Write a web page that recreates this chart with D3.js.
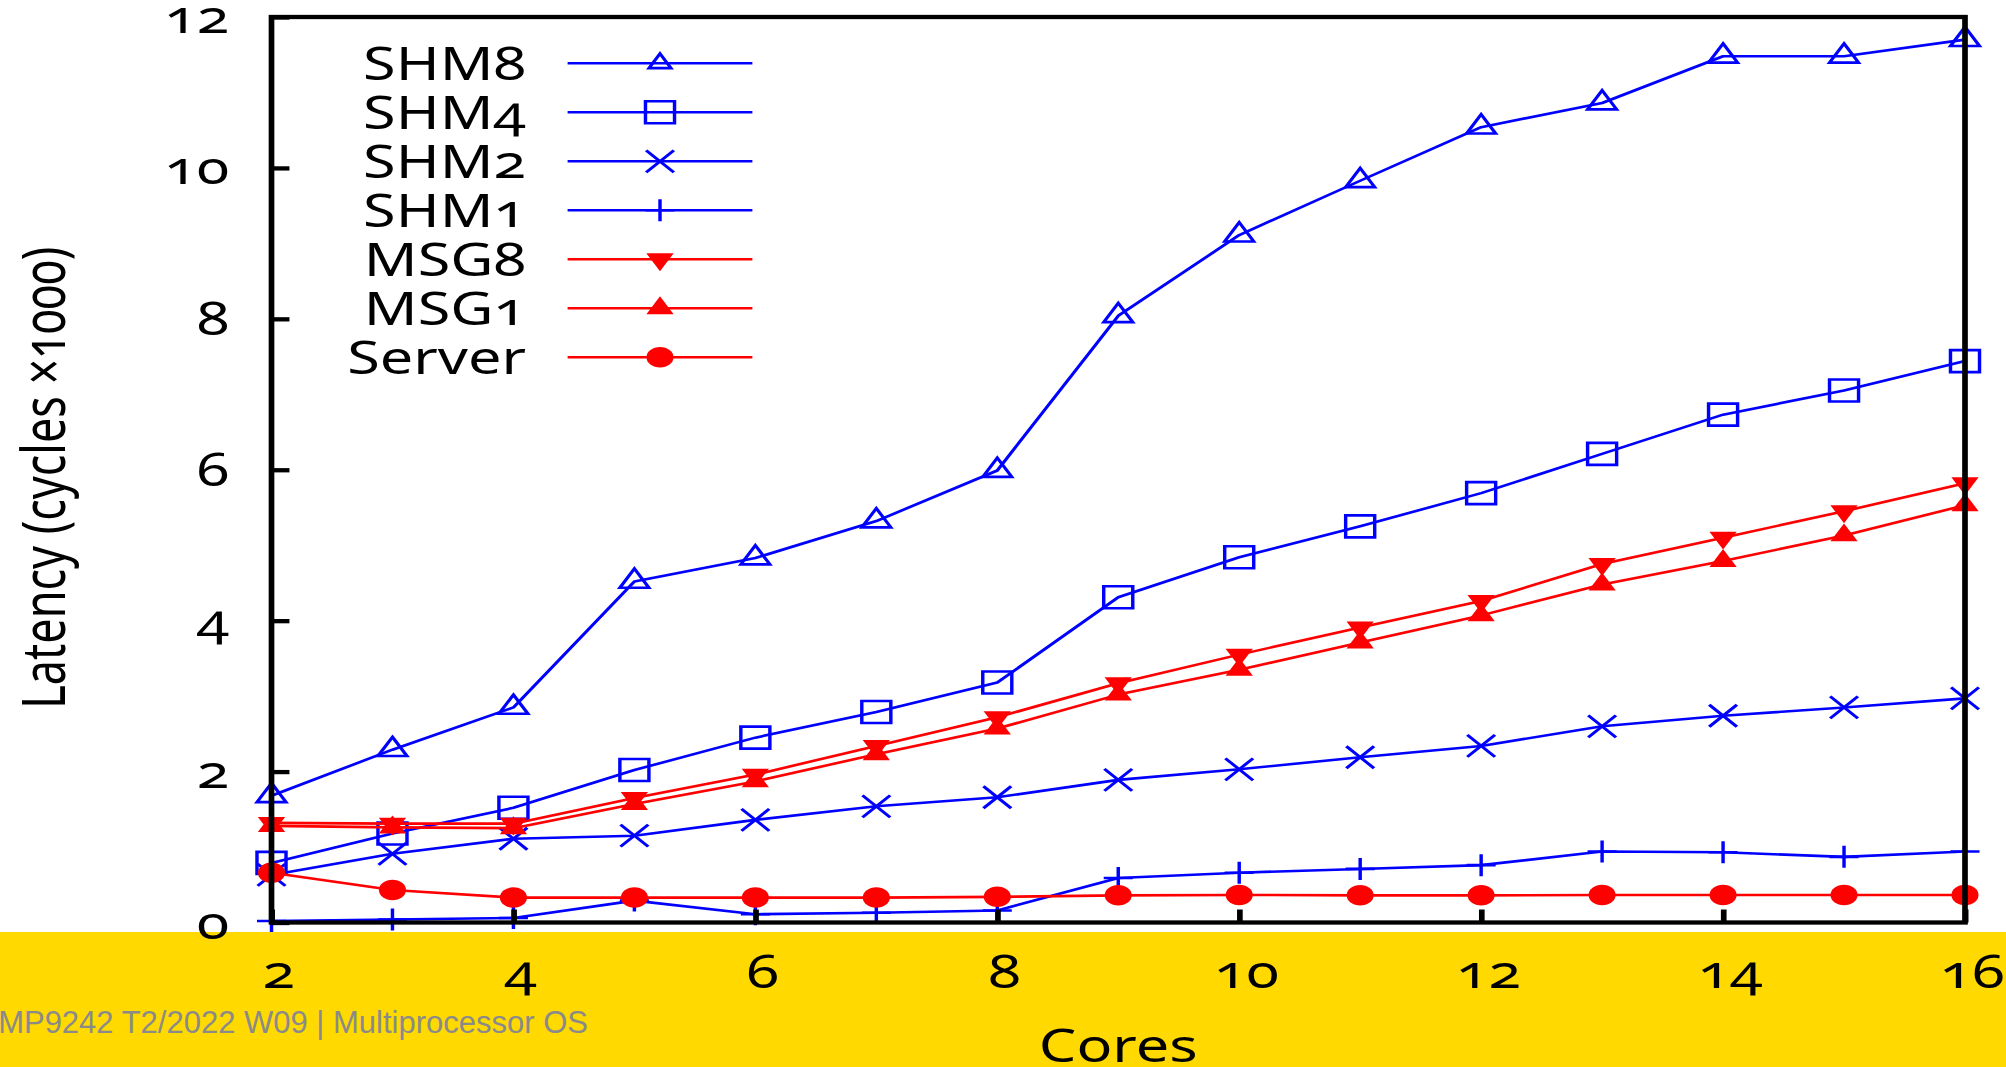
<!DOCTYPE html>
<html>
<head>
<meta charset="utf-8">
<script src="https://cdn.jsdelivr.net/npm/d3@7"></script>
<style>
  html, body { margin: 0; padding: 0; background: #fff; }
  svg { display: block; }
  .chart text { font-family: "Noto Sans", sans-serif; font-variant-numeric: oldstyle-nums; font-feature-settings: "onum" 1; }
</style>
</head>
<body>
<svg id="chart" width="2006" height="1067"></svg>
<script>
// ---------- data ----------
const cores = [2, 3, 4, 5, 6, 7, 8, 9, 10, 11, 12, 13, 14, 15, 16];
const shm8   = [1.68, 2.29, 2.85, 4.52, 4.83, 5.32, 5.99, 8.04, 9.11, 9.83, 10.54, 10.86, 11.48, 11.48, 11.70];
const shm4   = [0.79, 1.18, 1.52, 2.02, 2.45, 2.79, 3.18, 4.31, 4.84, 5.25, 5.69, 6.21, 6.73, 7.05, 7.44];
const shm2   = [0.63, 0.91, 1.11, 1.15, 1.36, 1.54, 1.66, 1.89, 2.03, 2.19, 2.34, 2.60, 2.74, 2.85, 2.97];
const shm1   = [0.02, 0.04, 0.06, 0.29, 0.11, 0.13, 0.16, 0.59, 0.66, 0.71, 0.76, 0.94, 0.93, 0.87, 0.94];
const msg8   = [1.32, 1.31, 1.31, 1.65, 1.96, 2.34, 2.72, 3.17, 3.55, 3.91, 4.26, 4.75, 5.10, 5.45, 5.82];
const msg1   = [1.28, 1.26, 1.25, 1.57, 1.87, 2.23, 2.57, 3.02, 3.35, 3.71, 4.07, 4.48, 4.79, 5.13, 5.53];
const server = [0.66, 0.43, 0.33, 0.33, 0.33, 0.33, 0.34, 0.36, 0.365, 0.36, 0.36, 0.365, 0.365, 0.365, 0.365];

const seriesNames = ["SHM8", "SHM4", "SHM2", "SHM1", "MSG8", "MSG1", "Server"];
const seriesValues = [shm8, shm4, shm2, shm1, msg8, msg1, server];
const seriesColors = ["#0000ff", "#0000ff", "#0000ff", "#0000ff", "#ff0000", "#ff0000", "#ff0000"];
const seriesMarkers = ["triangle", "square", "cross", "plus", "triDown", "triUp", "circle"];

const xTicks = [2, 4, 6, 8, 10, 12, 14, 16];
const yTicks = [0, 2, 4, 6, 8, 10, 12];
const xLabel = "Cores";
const yLabel = "Latency (cycles \u00d71000)";
const footer = "COMP9242 T2/2022 W09 | Multiprocessor OS";

// ---------- layout ----------
const W = 2006, H = 1067;
const SX = 1.32; // the figure is stretched horizontally
const svg = d3.select("#chart");

// slide footer band
svg.append("rect").attr("x", 0).attr("y", 932).attr("width", W).attr("height", H - 932).attr("fill", "#FFD900");
svg.append("text").attr("x", 588).attr("y", 1033).attr("text-anchor", "end")
  .attr("font-family", "'Liberation Sans', Arial, sans-serif").attr("font-size", 31)
  .attr("fill", "#8a8a8a").text(footer);

const g = svg.append("g").attr("class", "chart").attr("transform", `scale(${SX},1)`);

const x = d3.scaleLinear().domain([2, 16]).range([271.5 / SX, 1965 / SX]);
const y = d3.scaleLinear().domain([0, 12]).range([922.5, 17]);

const FS = 45;
const STROKE = 4.3;

// ---------- data lines & markers ----------
const line = d3.line().x((d, i) => x(cores[i])).y(d => y(d));

function markerPath(type, legend) {
  switch (type) {
    case "triangle": return d3.symbol(d3.symbolTriangle, legend ? 120 : 210)();
    case "triUp": return d3.symbol(d3.symbolTriangle, 185)();
    case "triDown": return d3.symbol(d3.symbolTriangle, 185)();
    case "square": return d3.symbol(d3.symbolSquare, 484)();
    case "circle": return d3.symbol(d3.symbolCircle, 330)();
    case "cross": return "M-10.5,-11L10.5,11M-10.5,11L10.5,-11";
    case "plus": return "M-11,0H11M0,-11V11";
  }
}
function drawMarker(sel, type, color, cx, cy, legend) {
  const filled = (type === "triUp" || type === "triDown" || type === "circle");
  sel.append("path")
    .attr("d", markerPath(type, legend))
    .attr("transform", `translate(${cx},${cy})` + (type === "triDown" ? " rotate(180)" : ""))
    .attr("fill", filled ? color : "none")
    .attr("stroke", filled ? "none" : color)
    .attr("stroke-width", 2.6);
}

seriesValues.forEach((vals, si) => {
  const col = seriesColors[si];
  const sg = g.append("g");
  sg.append("path").datum(vals).attr("d", line).attr("fill", "none")
    .attr("stroke", col).attr("stroke-width", 2.6).attr("stroke-linejoin", "round");
  vals.forEach((v, i) => drawMarker(sg, seriesMarkers[si], col, x(cores[i]), y(v), false));
});

// ---------- legend ----------
const legRow0 = 63.3, legStep = 49;
seriesNames.forEach((name, si) => {
  const ly = legRow0 + si * legStep;
  g.append("text").attr("x", 398.5).attr("y", ly + 17).attr("text-anchor", "end")
    .attr("font-size", FS).attr("fill", "#000").text(name);
  g.append("line").attr("x1", 430).attr("x2", 570).attr("y1", ly).attr("y2", ly)
    .attr("stroke", seriesColors[si]).attr("stroke-width", 2.6);
  drawMarker(g, seriesMarkers[si], seriesColors[si], 500, ly, true);
});

// ---------- axes ----------
const yAxis = g.append("g").attr("transform", `translate(${x(2)},0)`)
  .call(d3.axisLeft(y).tickValues(yTicks).tickFormat(d3.format("d")).tickSizeInner(-13.6).tickSizeOuter(0).tickPadding(32));
yAxis.select(".domain").remove();
yAxis.selectAll(".tick line").attr("stroke", "#000").attr("stroke-width", STROKE);
yAxis.selectAll(".tick text").attr("font-size", FS).attr("font-family", null).attr("fill", "#000")
  .attr("dy", 15.5);

const xAxis = g.append("g").attr("transform", `translate(0,${y(0)})`)
  .call(d3.axisBottom(x).tickValues(xTicks).tickFormat(d3.format("d")).tickSizeInner(-13).tickSizeOuter(0));
xAxis.select(".domain").remove();
xAxis.selectAll(".tick line").attr("stroke", "#000").attr("stroke-width", STROKE);
xAxis.selectAll(".tick text").attr("font-size", FS).attr("font-family", null).attr("fill", "#000")
  .attr("y", 65.5).attr("dy", null).attr("dx", 5);

// frame (drawn in front)
g.append("rect").attr("x", x(2)).attr("y", y(12)).attr("width", x(16) - x(2)).attr("height", y(0) - y(12))
  .attr("fill", "none").attr("stroke", "#000").attr("stroke-width", STROKE);

// axis titles
g.append("text").attr("x", (x(2) + x(16)) / 2).attr("y", 1062).attr("text-anchor", "middle")
  .attr("font-size", FS).attr("fill", "#000").text(xLabel);
g.append("text").attr("transform", `translate(${65 / SX},${(y(0) + y(12)) / 2 + 8}) rotate(-90)`)
  .attr("text-anchor", "middle").attr("font-size", FS).attr("fill", "#000").text(yLabel);
</script>
</body>
</html>
